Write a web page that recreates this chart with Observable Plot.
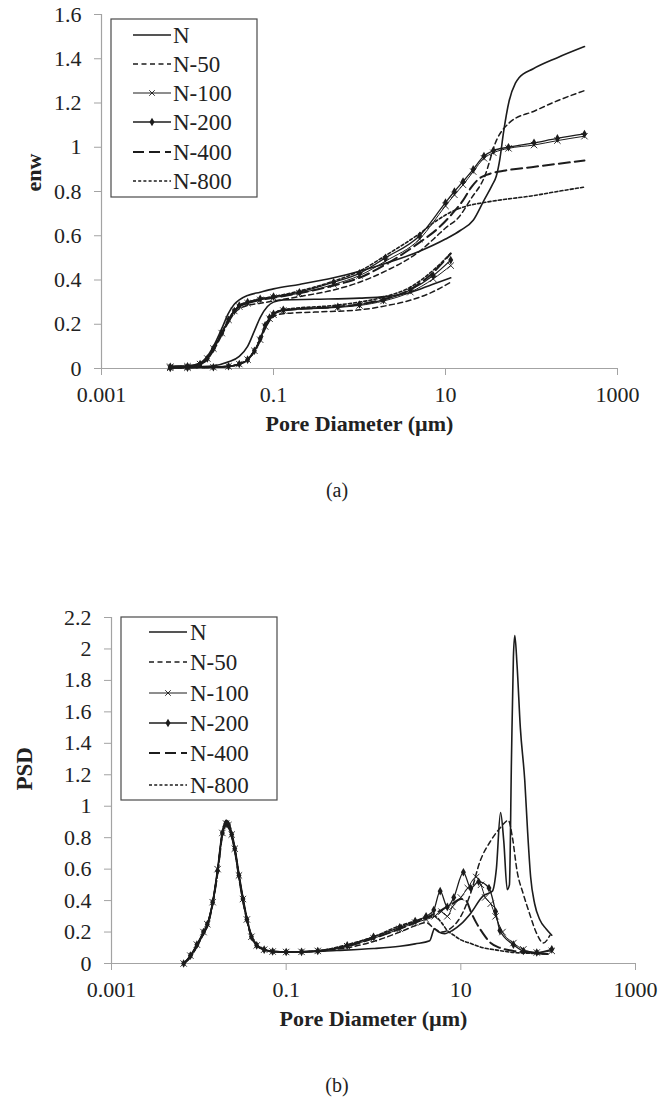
<!DOCTYPE html>
<html><head><meta charset="utf-8">
<script src="https://cdn.jsdelivr.net/npm/d3@7"></script>
<script src="https://cdn.jsdelivr.net/npm/@observablehq/plot@0.6"></script>
<style>
body{margin:0;background:#fff;}
#wrap{position:relative;width:672px;height:1098px;background:#fff;overflow:hidden;}
#wrap svg{position:absolute;left:0;}
.cap{position:absolute;transform:translateX(-50%);font-family:"Liberation Serif",serif;font-size:20px;line-height:24px;color:#222;}
</style></head><body><div id="wrap"></div>
<script>
// ---------- shared categories / tick labels ----------
const seriesNames = ["N","N-50","N-100","N-200","N-400","N-800"];
const xTicks = [0.001, 0.1, 10, 1000];
const xTickLabels = ["0.001","0.1","10","1000"];
const yTicksA = [0,0.2,0.4,0.6,0.8,1,1.2,1.4,1.6];
const yTickLabelsA = ["0","0.2","0.4","0.6","0.8","1","1.2","1.4","1.6"];
const yTicksB = [0,0.2,0.4,0.6,0.8,1,1.2,1.4,1.6,1.8,2,2.2];
const yTickLabelsB = ["0","0.2","0.4","0.6","0.8","1","1.2","1.4","1.6","1.8","2","2.2"];
const xLabel = "Pore Diameter (µm)";
const yLabelA = "enw";
const yLabelB = "PSD";
const captions = ["(a)","(b)"];

// ---------- (a) enw : intrusion (upper) branches [diameter µm, enw] ----------
const enw_up_N = [[0.0063,0.01],[0.01,0.012],[0.014,0.025],[0.017,0.055],[0.02,0.1],[0.025,0.18],[0.03,0.25],[0.035,0.29],[0.04,0.31],[0.05,0.33],[0.07,0.345],[0.1,0.36],[0.2,0.38],[0.5,0.41],[1,0.44],[2,0.475],[5,0.53],[10,0.585],[15,0.625],[21,0.67],[28,0.76],[35,0.83],[39,0.87],[43,0.95],[47,1.06],[55,1.21],[65,1.29],[72,1.315],[105,1.355],[200,1.405],[413,1.455]];
const enw_up_N50 = [[0.0063,0.008],[0.01,0.01],[0.014,0.02],[0.017,0.04],[0.02,0.08],[0.025,0.15],[0.03,0.21],[0.035,0.25],[0.04,0.27],[0.05,0.285],[0.07,0.295],[0.1,0.305],[0.2,0.325],[0.5,0.355],[1,0.39],[2,0.44],[5,0.53],[8,0.6],[10,0.635],[14,0.68],[20,0.77],[28,0.86],[39,1.03],[55,1.11],[110,1.165],[200,1.21],[413,1.256]];
const enw_up_N100 = [[0.0063,0.008],[0.01,0.01],[0.014,0.02],[0.017,0.045],[0.02,0.09],[0.025,0.16],[0.03,0.22],[0.035,0.26],[0.04,0.28],[0.05,0.295],[0.07,0.31],[0.1,0.32],[0.2,0.34],[0.5,0.38],[1,0.42],[2,0.485],[5,0.585],[10,0.735],[12.7,0.785],[16,0.83],[21,0.89],[28,0.95],[36,0.975],[54,0.995],[107,1.01],[200,1.03],[413,1.05]];
const enw_up_N200 = [[0.0063,0.008],[0.01,0.01],[0.014,0.02],[0.017,0.045],[0.02,0.09],[0.025,0.16],[0.03,0.22],[0.035,0.26],[0.04,0.285],[0.05,0.3],[0.07,0.315],[0.1,0.325],[0.2,0.345],[0.5,0.39],[1,0.43],[2,0.5],[5,0.6],[10,0.75],[12.7,0.8],[16,0.845],[21,0.9],[28,0.96],[36,0.985],[54,1.0],[107,1.02],[200,1.04],[413,1.06]];
const enw_up_N400 = [[0.0063,0.008],[0.01,0.01],[0.014,0.02],[0.017,0.045],[0.02,0.09],[0.025,0.16],[0.03,0.22],[0.035,0.26],[0.04,0.28],[0.05,0.295],[0.07,0.31],[0.1,0.32],[0.2,0.34],[0.5,0.375],[1,0.41],[2,0.47],[5,0.57],[8,0.63],[12,0.7],[16,0.76],[20,0.82],[25,0.86],[30,0.875],[50,0.895],[100,0.91],[200,0.925],[413,0.94]];
const enw_up_N800 = [[0.0063,0.008],[0.01,0.01],[0.014,0.02],[0.017,0.045],[0.02,0.09],[0.025,0.16],[0.03,0.22],[0.035,0.26],[0.04,0.285],[0.05,0.3],[0.07,0.315],[0.1,0.325],[0.2,0.35],[0.5,0.395],[1,0.44],[2,0.51],[5,0.61],[8,0.67],[12,0.71],[18,0.735],[28,0.75],[50,0.765],[100,0.78],[200,0.8],[413,0.82]];

// ---------- (a) enw : extrusion (lower) branches ----------
const enw_lo_N = [[0.0063,0.005],[0.01,0.006],[0.02,0.012],[0.03,0.03],[0.04,0.055],[0.05,0.1],[0.06,0.17],[0.07,0.23],[0.085,0.28],[0.1,0.3],[0.13,0.31],[0.3,0.313],[1,0.318],[2,0.325],[4,0.345],[7,0.38],[11.5,0.41]];
const enw_lo_N50 = [[0.0063,0.003],[0.01,0.004],[0.02,0.006],[0.03,0.01],[0.04,0.02],[0.05,0.04],[0.06,0.075],[0.07,0.125],[0.08,0.18],[0.09,0.215],[0.1,0.235],[0.13,0.248],[0.3,0.255],[1,0.265],[2,0.283],[4,0.31],[7,0.345],[11.5,0.39]];
const enw_lo_N100 = [[0.0063,0.003],[0.01,0.004],[0.02,0.006],[0.03,0.01],[0.04,0.02],[0.05,0.04],[0.06,0.08],[0.07,0.13],[0.08,0.19],[0.09,0.225],[0.1,0.243],[0.13,0.262],[0.56,0.276],[1,0.285],[1.9,0.305],[3.9,0.345],[7.2,0.405],[11.5,0.465]];
const enw_lo_N200 = [[0.0063,0.003],[0.01,0.004],[0.02,0.006],[0.03,0.01],[0.04,0.02],[0.05,0.04],[0.06,0.08],[0.07,0.135],[0.08,0.195],[0.09,0.23],[0.1,0.247],[0.13,0.265],[0.56,0.279],[1,0.289],[1.9,0.31],[3.9,0.355],[7.2,0.42],[11.5,0.49]];
const enw_lo_N400 = [[0.0063,0.003],[0.01,0.004],[0.02,0.006],[0.03,0.01],[0.04,0.02],[0.05,0.04],[0.06,0.08],[0.07,0.13],[0.08,0.19],[0.09,0.225],[0.1,0.245],[0.13,0.262],[0.5,0.278],[1,0.29],[2,0.315],[4,0.36],[7,0.43],[11.5,0.52]];
const enw_lo_N800 = [[0.0063,0.003],[0.01,0.004],[0.02,0.006],[0.03,0.01],[0.04,0.02],[0.05,0.04],[0.06,0.08],[0.07,0.13],[0.08,0.19],[0.09,0.225],[0.1,0.247],[0.13,0.266],[0.5,0.285],[1,0.3],[2,0.325],[4,0.37],[7,0.44],[11.5,0.52]];

// ---------- (b) PSD [diameter µm, PSD] ----------
const psd_N = [[0.0067,0],[0.008,0.05],[0.0095,0.12],[0.0113,0.2],[0.0125,0.25],[0.0144,0.39],[0.0164,0.6],[0.0186,0.84],[0.0205,0.91],[0.0218,0.9],[0.0238,0.83],[0.0258,0.74],[0.0288,0.57],[0.032,0.42],[0.0355,0.29],[0.04,0.18],[0.046,0.12],[0.056,0.09],[0.07,0.078],[0.1,0.074],[0.15,0.074],[0.38,0.083],[1,0.095],[2,0.11],[3,0.125],[4.4,0.145],[5,0.22],[5.6,0.2],[6.5,0.19],[8,0.21],[10,0.25],[13,0.32],[18,0.43],[23,0.46],[25.5,0.6],[28.5,0.96],[31,0.78],[34,0.47],[36,0.5],[38,1.3],[40,1.95],[41.5,2.085],[44,1.9],[48,1.5],[54,1.16],[58,0.85],[63,0.55],[70,0.38],[80,0.28],[95,0.22],[110,0.18]];
const psd_N50 = [[0.0067,0],[0.008,0.04],[0.0095,0.11],[0.0113,0.19],[0.0125,0.24],[0.0144,0.38],[0.0164,0.58],[0.0186,0.82],[0.0205,0.88],[0.0218,0.87],[0.0238,0.81],[0.0258,0.72],[0.0288,0.55],[0.032,0.4],[0.0355,0.28],[0.04,0.17],[0.046,0.115],[0.056,0.088],[0.07,0.076],[0.1,0.073],[0.15,0.074],[0.23,0.08],[0.5,0.1],[1,0.14],[2,0.2],[3,0.24],[4,0.26],[5,0.22],[6,0.2],[7.5,0.22],[10,0.3],[13,0.45],[16.6,0.65],[22,0.78],[28,0.86],[35,0.91],[39,0.8],[44,0.59],[52,0.44],[61,0.32],[74,0.19],[88,0.13],[105,0.18]];
const psd_N100 = [[0.0067,0],[0.008,0.05],[0.0095,0.12],[0.0113,0.2],[0.0125,0.25],[0.0144,0.39],[0.0164,0.6],[0.0186,0.83],[0.0205,0.89],[0.0218,0.88],[0.0238,0.82],[0.0258,0.73],[0.0288,0.56],[0.032,0.41],[0.0355,0.28],[0.04,0.17],[0.046,0.115],[0.056,0.088],[0.07,0.076],[0.1,0.073],[0.15,0.074],[0.23,0.08],[0.5,0.11],[1,0.16],[2,0.22],[3,0.26],[4,0.28],[5,0.3],[6,0.33],[7,0.3],[8,0.36],[10,0.42],[12,0.48],[15,0.55],[17,0.5],[19,0.42],[22,0.38],[25,0.3],[30,0.2],[40,0.13],[52,0.09],[74,0.07],[110,0.08]];
const psd_N200 = [[0.0067,0],[0.008,0.05],[0.0095,0.12],[0.0113,0.2],[0.0125,0.25],[0.0144,0.39],[0.0164,0.59],[0.0186,0.83],[0.0205,0.89],[0.0218,0.88],[0.0238,0.82],[0.0258,0.73],[0.0288,0.56],[0.032,0.41],[0.0355,0.28],[0.04,0.17],[0.046,0.115],[0.056,0.088],[0.07,0.076],[0.1,0.073],[0.15,0.074],[0.23,0.08],[0.5,0.115],[1,0.17],[2,0.23],[3,0.27],[4,0.3],[4.9,0.34],[5.8,0.46],[7,0.36],[8.3,0.42],[10.7,0.58],[13,0.48],[16,0.52],[21,0.48],[25,0.33],[28,0.21],[40,0.12],[52,0.08],[74,0.07],[110,0.09]];
const psd_N400 = [[0.0067,0],[0.008,0.04],[0.0095,0.11],[0.0113,0.19],[0.0125,0.24],[0.0144,0.38],[0.0164,0.58],[0.0186,0.82],[0.0205,0.88],[0.0218,0.87],[0.0238,0.81],[0.0258,0.72],[0.0288,0.55],[0.032,0.4],[0.0355,0.28],[0.04,0.17],[0.046,0.115],[0.056,0.088],[0.07,0.076],[0.1,0.073],[0.15,0.074],[0.23,0.08],[0.5,0.11],[1,0.16],[2,0.22],[3,0.26],[4,0.29],[6,0.34],[8,0.38],[10,0.41],[11.5,0.4],[13,0.33],[15,0.26],[18,0.19],[22,0.13],[28,0.1],[40,0.08],[60,0.07],[100,0.06]];
const psd_N800 = [[0.0067,0],[0.008,0.04],[0.0095,0.11],[0.0113,0.19],[0.0125,0.24],[0.0144,0.38],[0.0164,0.58],[0.0186,0.82],[0.0205,0.88],[0.0218,0.87],[0.0238,0.81],[0.0258,0.72],[0.0288,0.55],[0.032,0.4],[0.0355,0.28],[0.04,0.17],[0.046,0.115],[0.056,0.088],[0.07,0.076],[0.1,0.073],[0.15,0.074],[0.23,0.08],[0.5,0.12],[1,0.17],[2,0.24],[3,0.27],[4,0.29],[5,0.3],[6,0.26],[7,0.21],[8.3,0.18],[10,0.15],[12.6,0.13],[18,0.1],[26,0.085],[40,0.07],[60,0.065],[100,0.06]];

// ---------- tables built from the arrays ----------
const enwUp = [enw_up_N, enw_up_N50, enw_up_N100, enw_up_N200, enw_up_N400, enw_up_N800];
const enwLo = [enw_lo_N, enw_lo_N50, enw_lo_N100, enw_lo_N200, enw_lo_N400, enw_lo_N800];
const psdAll = [psd_N, psd_N50, psd_N100, psd_N200, psd_N400, psd_N800];

const rowsA = [];
seriesNames.forEach((s, i) => {
  enwUp[i].forEach(([x, y]) => rowsA.push({s, b: s + "|up", x, y}));
  enwLo[i].forEach(([x, y]) => rowsA.push({s, b: s + "|lo", x, y}));
});
const rowsB = [];
seriesNames.forEach((s, i) => psdAll[i].forEach(([x, y]) => rowsB.push({s, b: s, x, y})));

// styles per series
const ink = "#1c1c1c";
const dashes = [null, "5,3.5", null, null, "11,5", "3,2.2"];
const widths = [1.6, 1.5, 1, 1.3, 2, 1.6];
const markers = [null, null, "times", "diamond", null, null];

function seriesMarks(rows) {
  const m = [];
  seriesNames.forEach((s, i) => {
    const d = rows.filter(r => r.s === s);
    m.push(Plot.line(d, {x: "x", y: "y", z: "b", stroke: ink, strokeWidth: widths[i],
      strokeDasharray: dashes[i] || undefined, curve: "monotone-x"}));
    if (markers[i] === "times") m.push(Plot.dot(d, {x: "x", y: "y", symbol: "times", r: 3, stroke: ink, strokeWidth: 0.9}));
    if (markers[i] === "diamond") m.push(Plot.dot(d, {x: "x", y: "y", symbol: "diamond", r: 2.6, fill: ink, stroke: "none"}));
  });
  return m;
}

function makePlot(rows, opt) {
  const axisGray = "#a3a3a3";
  return Plot.plot({
    width: 672, height: opt.height,
    marginLeft: opt.ml, marginRight: opt.mr, marginTop: opt.mt, marginBottom: opt.mb,
    style: {fontFamily: "'Liberation Serif', 'Times New Roman', serif", fontSize: "22px", color: "#222", background: "white", overflow: "visible"},
    x: {type: "log", domain: [0.001, 1000], axis: null},
    y: {domain: [0, opt.ymax], axis: null},
    marks: [
      Plot.ruleY([0], {stroke: axisGray, strokeWidth: 1.2}),
      Plot.ruleX([0.001], {stroke: axisGray, strokeWidth: 1.2}),
      Plot.axisY({ticks: opt.yt, tickFormat: d => opt.ytl[opt.yt.indexOf(d)], tickSize: 7, tickPadding: 13,
        stroke: axisGray, fill: "#222", label: null}),
      Plot.axisX({ticks: xTicks, tickFormat: d => xTickLabels[xTicks.indexOf(d)], tickSize: 7, tickPadding: 11,
        stroke: axisGray, fill: "#222", label: null}),
      ...seriesMarks(rows),
      Plot.text([xLabel], {text: d => d, frameAnchor: "bottom", dy: 47, lineAnchor: "top", fontWeight: "bold", fontSize: 22, fill: "#222"}),
      Plot.text([opt.ylabel], {text: d => d, frameAnchor: "left", rotate: -90, dx: opt.ydx, fontWeight: "bold", fontSize: opt.yfs, fill: "#222"})
    ]
  });
}

function drawLegend(svg, box, ys, x0, x1, tx) {
  const g = d3.select(svg).append("g").attr("text-anchor", "start");
  g.append("rect").attr("x", box[0]).attr("y", box[1]).attr("width", box[2]).attr("height", box[3])
    .attr("fill", "white").attr("stroke", "#4a4a4a").attr("stroke-width", 1.2);
  seriesNames.forEach((s, i) => {
    const y = ys[i];
    g.append("line").attr("x1", x0).attr("x2", x1).attr("y1", y).attr("y2", y)
      .attr("stroke", ink).attr("stroke-width", widths[i]).attr("stroke-dasharray", dashes[i]);
    const cx = (x0 + x1) / 2;
    if (markers[i] === "times") g.append("path").attr("d", d3.symbol(d3.symbolTimes, 22)()).attr("transform", `translate(${cx},${y})`).attr("stroke", ink).attr("fill", "none").attr("stroke-width", 0.9);
    if (markers[i] === "diamond") g.append("path").attr("d", d3.symbol(d3.symbolDiamond, 22)()).attr("transform", `translate(${cx},${y})`).attr("fill", ink);
    g.append("text").attr("x", tx).attr("y", y).attr("dy", "0.34em").attr("text-anchor", "start")
      .attr("font-family", "'Liberation Serif', serif")
      .attr("font-size", 23).attr("fill", "#222").text(s);
  });
}

const wrap = document.getElementById("wrap");

const svgA = makePlot(rowsA, {height: 440, ml: 101, mr: 55, mt: 14, mb: 72, ymax: 1.6, yt: yTicksA, ytl: yTickLabelsA, ylabel: yLabelA, ydx: -68, yfs: 22});
svgA.style.top = "0px";
wrap.appendChild(svgA);
drawLegend(svgA, [111, 19, 146, 178], [35, 64, 93, 122, 152, 181], 133, 171, 173);

const svgB = makePlot(rowsB, {height: 435, ml: 111, mr: 37, mt: 17, mb: 72, ymax: 2.2, yt: yTicksB, ytl: yTickLabelsB, ylabel: yLabelB, ydx: -87, yfs: 23});
svgB.style.top = "600px";
wrap.appendChild(svgB);
drawLegend(svgB, [121, 17, 156, 183], [32, 62, 93, 123, 153, 185], 149, 187, 190);

[[captions[0], 478], [captions[1], 1073]].forEach(([t, top]) => {
  const d = document.createElement("div");
  d.className = "cap"; d.textContent = t; d.style.left = "337px"; d.style.top = top + "px";
  wrap.appendChild(d);
});
</script></body></html>
